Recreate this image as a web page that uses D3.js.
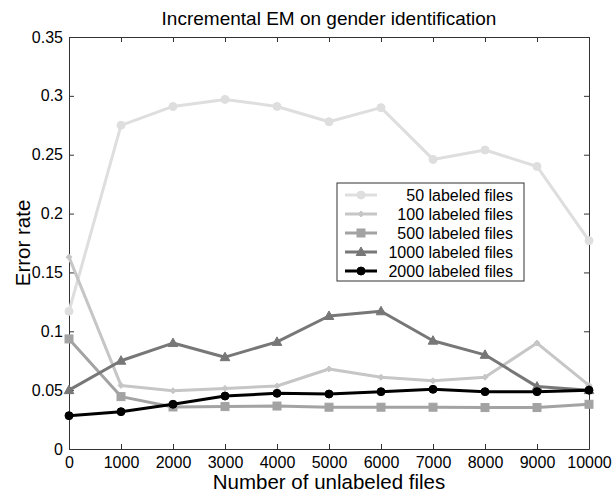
<!DOCTYPE html>
<html>
<head>
<meta charset="utf-8">
<script src="https://cdn.jsdelivr.net/npm/d3@7"></script>
<style>
  body { margin: 0; background: #fff; }
  svg { font-family: "Liberation Sans", Arial, sans-serif; }
</style>
</head>
<body>
<svg id="chart" width="615" height="492"></svg>
<script>
// x values: number of unlabeled files
const unlabeled = [0, 1000, 2000, 3000, 4000, 5000, 6000, 7000, 8000, 9000, 10000];

// error rates per labeled-set size
const err50   = [0.117, 0.275, 0.291, 0.297, 0.291, 0.278, 0.290, 0.246, 0.254, 0.240, 0.177];
const err100  = [0.163, 0.054, 0.0495, 0.0515, 0.0535, 0.068, 0.061, 0.058, 0.061, 0.090, 0.054];
const err500  = [0.0935, 0.0445, 0.0357, 0.036, 0.0365, 0.0355, 0.0355, 0.0355, 0.0352, 0.0352, 0.038];
const err1000 = [0.050, 0.075, 0.090, 0.078, 0.091, 0.113, 0.117, 0.092, 0.080, 0.053, 0.050];
const err2000 = [0.0283, 0.0317, 0.038, 0.045, 0.0473, 0.0467, 0.0487, 0.0507, 0.0487, 0.0487, 0.050];

const seriesNames = ['50 labeled files', '100 labeled files', '500 labeled files', '1000 labeled files', '2000 labeled files'];

const xTicks = [0, 1000, 2000, 3000, 4000, 5000, 6000, 7000, 8000, 9000, 10000];
const yTicks = [0, 0.05, 0.1, 0.15, 0.2, 0.25, 0.3, 0.35];

const series = [
    {name: seriesNames[0], values: err50,   color: '#dedede', marker: 'circle'},
    {name: seriesNames[1], values: err100,  color: '#c6c6c6', marker: 'diamond'},
    {name: seriesNames[2], values: err500,  color: '#a3a3a3', marker: 'square'},
    {name: seriesNames[3], values: err1000, color: '#777777', marker: 'triangle'},
    {name: seriesNames[4], values: err2000, color: '#000000', marker: 'circle'}
];

const svg = d3.select('#chart');
const margin = {top: 37, right: 26, bottom: 43, left: 69},
      width = 615 - margin.left - margin.right,
      height = 492 - margin.top - margin.bottom;

const g = svg.append('g')
    .attr('transform', `translate(${margin.left},${margin.top})`);

const xScale = d3.scaleLinear().domain([0, 10000]).range([0, width]);
const yScale = d3.scaleLinear().domain([0, 0.35]).range([height, 0]);

const fmtY = d => d === 0 ? '0' : String(+d.toFixed(2));

// axes with inward ticks, MATLAB style box
const xAxis = g.append('g')
    .attr('transform', `translate(0,${height})`)
    .call(d3.axisBottom(xScale).tickValues(xTicks).tickSizeInner(-5).tickSizeOuter(0).tickPadding(8).tickFormat(d3.format('d')));
const xAxisTop = g.append('g')
    .call(d3.axisTop(xScale).tickValues(xTicks).tickSizeInner(-5).tickSizeOuter(0).tickFormat(''));
const yAxis = g.append('g')
    .call(d3.axisLeft(yScale).tickValues(yTicks).tickSizeInner(-5).tickSizeOuter(0).tickPadding(6).tickFormat(fmtY));
const yAxisRight = g.append('g')
    .attr('transform', `translate(${width},0)`)
    .call(d3.axisRight(yScale).tickValues(yTicks).tickSizeInner(-5).tickSizeOuter(0).tickFormat(''));

[xAxis, xAxisTop, yAxis, yAxisRight].forEach(ax => {
    ax.select('.domain').attr('stroke', '#333');
    ax.selectAll('.tick line').attr('stroke', '#333');
    ax.selectAll('text')
        .attr('font-size', '16px')
        .attr('fill', '#000')
        .attr('font-family', '"Liberation Sans", Arial, sans-serif');
});

// title and labels
svg.append('text')
    .attr('x', margin.left + width / 2)
    .attr('y', 25)
    .attr('text-anchor', 'middle')
    .attr('font-size', '19px')
    .text('Incremental EM on gender identification');

svg.append('text')
    .attr('x', margin.left + width / 2)
    .attr('y', 489)
    .attr('text-anchor', 'middle')
    .attr('font-size', '20.5px')
    .text('Number of unlabeled files');

svg.append('text')
    .attr('transform', 'rotate(-90)')
    .attr('x', -(margin.top + height / 2))
    .attr('y', 30)
    .attr('text-anchor', 'middle')
    .attr('font-size', '20.5px')
    .text('Error rate');

// marker drawing
function drawMarker(sel, type, color) {
    if (type === 'circle') {
        sel.append('circle').attr('r', 4).attr('fill', color).attr('stroke', color);
    } else if (type === 'square') {
        sel.append('rect').attr('x', -4).attr('y', -4).attr('width', 8).attr('height', 8)
            .attr('fill', color).attr('stroke', color);
    } else if (type === 'triangle') {
        sel.append('path').attr('d', 'M0,-5L4.8,3.5L-4.8,3.5Z').attr('fill', color).attr('stroke', color);
    } else if (type === 'diamond') {
        sel.append('path').attr('d', 'M0,-3L3,0L0,3L-3,0Z').attr('fill', color).attr('stroke', color);
    }
}

const line = d3.line()
    .x((d, i) => xScale(unlabeled[i]))
    .y(d => yScale(d));

const plot = g.append('g');
series.forEach(s => {
    plot.append('path')
        .attr('d', line(s.values))
        .attr('fill', 'none')
        .attr('stroke', s.color)
        .attr('stroke-width', 3)
        .attr('stroke-linejoin', 'round');
    plot.selectAll(null)
        .data(s.values)
        .join('g')
        .attr('transform', (d, i) => `translate(${xScale(unlabeled[i])},${yScale(d)})`)
        .each(function () { drawMarker(d3.select(this), s.marker, s.color); });
});

// legend
const legend = svg.append('g').attr('transform', 'translate(337,183)');
legend.append('rect')
    .attr('width', 187).attr('height', 98)
    .attr('fill', '#fff').attr('stroke', '#333');
const rows = legend.selectAll('.row')
    .data(series)
    .join('g')
    .attr('class', 'row')
    .attr('transform', (d, i) => `translate(0,${12 + i * 19})`);
rows.append('line')
    .attr('x1', 8).attr('x2', 40)
    .attr('stroke', d => d.color).attr('stroke-width', 3);
rows.append('g')
    .attr('transform', 'translate(24,0)')
    .each(function (d) { drawMarker(d3.select(this), d.marker, d.color); });
rows.append('text')
    .attr('x', 176)
    .attr('dy', '0.35em')
    .attr('text-anchor', 'end')
    .attr('font-size', '16px')
    .text(d => d.name);
</script>
</body>
</html>
